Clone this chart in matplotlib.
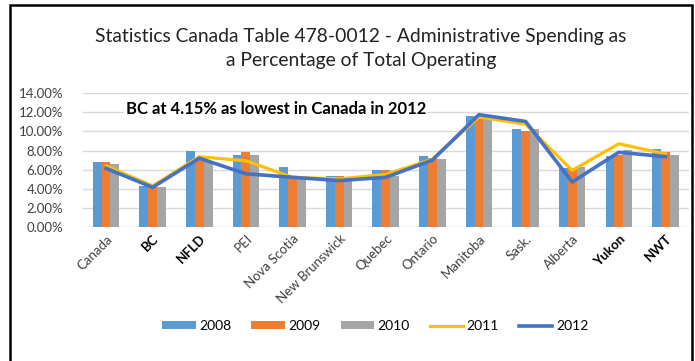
import matplotlib
matplotlib.use("Agg")
import matplotlib.pyplot as plt
import numpy as np
from matplotlib.patches import Rectangle
from matplotlib.ticker import FuncFormatter

plt.rcParams['font.family'] = ['Lato', 'DejaVu Sans']

regions = ["Canada", "BC", "NFLD", "PEI", "Nova Scotia", "New Brunswick", "Quebec",
           "Ontario", "Manitoba", "Sask.", "Alberta", "Yukon", "NWT"]
bold_labels = ["BC", "NFLD", "Yukon", "NWT"]

y2008 = [6.75, 4.25, 7.93, 7.54, 6.29, 5.36, 5.93, 7.39, 11.57, 10.20, 6.14, 7.46, 8.18]
y2009 = [6.75, 4.14, 7.20, 7.82, 5.14, 5.36, 5.93, 7.20, 11.40, 10.07, 6.20, 7.57, 7.82]
y2010 = [6.57, 4.14, 6.90, 7.54, 5.07, 5.07, 5.32, 7.10, 11.30, 10.20, 6.29, 8.07, 7.54]
y2011 = [6.40, 4.30, 7.35, 6.93, 5.20, 5.04, 5.50, 7.10, 11.50, 10.75, 5.93, 8.71, 7.64]
y2012 = [6.14, 4.15, 7.20, 5.57, 5.20, 4.86, 5.20, 7.00, 11.75, 11.04, 4.71, 7.82, 7.36]

fig = plt.figure(figsize=(6.95, 3.61), dpi=100)
ax = fig.add_axes([0.119, 0.371, 0.872, 0.371])

x = np.arange(len(regions))
w = 0.19
b1 = ax.bar(x - w, y2008, w, color="#5B9BD5", label="2008", zorder=2)
b2 = ax.bar(x, y2009, w, color="#ED7D31", label="2009", zorder=2)
b3 = ax.bar(x + w, y2010, w, color="#A5A5A5", label="2010", zorder=2)
l1, = ax.plot(x, y2011, color="#FFC000", lw=2.3, label="2011", zorder=3)
l2, = ax.plot(x, y2012, color="#4472C4", lw=2.6, label="2012", zorder=4)

ax.set_xlim(-0.5, len(regions) - 0.5)
ax.set_ylim(0, 14)
ax.set_yticks(np.arange(0, 15, 2))
ax.yaxis.set_major_formatter(FuncFormatter(lambda v, p: "%.2f%%" % v))
ax.grid(axis="y", color="#d9d9d9", lw=1, zorder=0)
for s in ax.spines.values():
    s.set_visible(False)
ax.tick_params(length=0, labelsize=9.5, colors="#404040")
ax.tick_params(axis="y", pad=14)
ax.tick_params(axis="x", pad=4)
ax.set_xticks(x)
ax.set_xticklabels(regions, rotation=45, ha="right", rotation_mode="anchor", fontsize=9.5)
for lbl in ax.get_xticklabels():
    if lbl.get_text() in bold_labels:
        lbl.set_fontweight("bold")
        lbl.set_color("black")

ax.text(0.42, 12.3, "BC at 4.15% as lowest in Canada in 2012", fontsize=12,
        fontweight="bold", va="center", ha="left", zorder=5,
        bbox=dict(facecolor="white", edgecolor="none", pad=1))

fig.text(0.519, 0.866, "Statistics Canada Table 478-0012 - Administrative Spending as\na Percentage of Total Operating",
         ha="center", va="center", fontsize=13.9, linespacing=1.55, color="#222222")

fig.legend([b1, b2, b3, l1, l2], ["2008", "2009", "2010", "2011", "2012"],
           loc="center", bbox_to_anchor=(0.54, 0.097), ncol=5, frameon=False,
           fontsize=10, handlelength=2.4, handleheight=0.45, columnspacing=1.45,
           handletextpad=0.25)

fig.patches.append(Rectangle((0.0144, -0.1), 0.982, 1.086, transform=fig.transFigure,
                             fill=False, edgecolor="black", lw=1.8))

fig.savefig("out.png", dpi=100)
